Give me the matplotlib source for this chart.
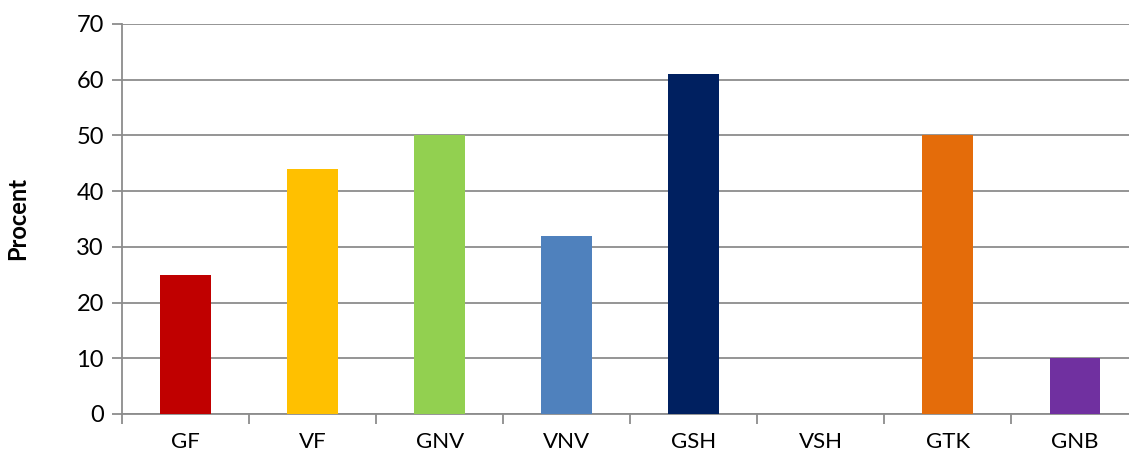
import numpy as np
import matplotlib.pyplot as plt
from matplotlib.ticker import FixedLocator

# Datos
categories = ["GF", "VF", "GNV", "VNV", "GSH", "VSH", "GTK", "GNB"]
values = [25, 44, 50, 32, 61, 0, 50, 10]
colors = ["#C00000", "#FFC000", "#92D050", "#4F81BD", "#002060",
          "#FFFFFF", "#E46C0A", "#7030A0"]

plt.rcParams['font.family'] = ['Lato', 'DejaVu Sans']

fig = plt.figure(figsize=(11.29, 4.59), dpi=100)
ax = fig.add_axes([122 / 1129, 45 / 459, 1016.5 / 1129, 390 / 459])

x = np.arange(len(categories))
ax.bar(x, values, width=0.4, color=colors, zorder=3)

ax.set_xlim(-0.5, len(categories) - 0.5)
ax.set_ylim(0, 70)
ax.set_yticks(np.arange(0, 71, 10))
ax.set_xticks(x)
ax.set_xticklabels(categories)
ax.xaxis.set_minor_locator(FixedLocator(np.arange(-0.5, len(categories), 1)))

grid_color = "#8C8C8C"
ax.yaxis.grid(True, color=grid_color, linewidth=1.3, zorder=0)
ax.set_axisbelow(True)

for side in ["top", "right"]:
    ax.spines[side].set_visible(False)
for side in ["left", "bottom"]:
    ax.spines[side].set_color(grid_color)
    ax.spines[side].set_linewidth(1.3)

ax.tick_params(axis="y", length=7, width=1.3, color=grid_color, labelsize=17, pad=6)
ax.tick_params(axis="x", which="major", length=0, labelsize=16, pad=13)
ax.tick_params(axis="x", which="minor", length=7, width=1.3, color=grid_color)

ax.set_ylabel("Procent", fontsize=17, fontweight="bold", labelpad=34)

plt.savefig("out.png", dpi=100)
